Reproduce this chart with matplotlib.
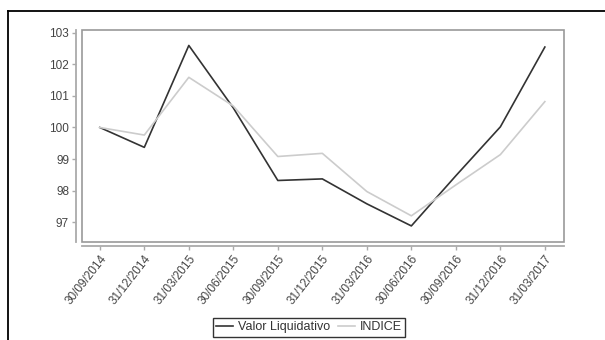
import matplotlib
matplotlib.use("Agg")
import matplotlib.pyplot as plt
from matplotlib.patches import Rectangle
from matplotlib.lines import Line2D

dates = ["30/09/2014", "31/12/2014", "31/03/2015", "30/06/2015", "30/09/2015",
         "31/12/2015", "31/03/2016", "30/06/2016", "30/09/2016", "31/12/2016",
         "31/03/2017"]
valor = [100.0, 99.37, 102.6, 100.62, 98.32, 98.37, 97.58, 96.88, 98.47, 100.02, 102.55]
indice = [100.0, 99.76, 101.59, 100.68, 99.08, 99.18, 97.97, 97.2, 98.18, 99.14, 100.82]
yticks = [97, 98, 99, 100, 101, 102, 103]

plt.rcParams['font.family'] = ['Liberation Sans', 'DejaVu Sans']

fig = plt.figure(figsize=(6.05, 3.4), dpi=100)
ax = fig.add_axes([82/605, 1-242/340, (564-82)/605, (242-30)/340])

x = list(range(len(dates)))
ax.plot(x, valor, color='#333333', lw=1.2, label='Valor Liquidativo')
ax.plot(x, indice, color='#cccccc', lw=1.2, label='INDICE')

ax.set_xlim(-0.40, len(dates) - 1 + 0.43)
ax.set_ylim(96.37, 103.09)

for s in ['top', 'right']:
    ax.spines[s].set_visible(False)
ax.spines['left'].set_position(('outward', 4.3))
ax.spines['bottom'].set_position(('outward', 2.9))
for s in ['left', 'bottom']:
    ax.spines[s].set_color('#aaaaaa')
    ax.spines[s].set_linewidth(1.3)
ax.tick_params(axis='both', colors='#aaaaaa', length=3, width=1, labelsize=8.5,
               labelcolor='#444444', pad=2)

ax.set_yticks(yticks)
ax.set_yticklabels([str(v) for v in yticks])
ax.set_xticks(x)
ax.set_xticklabels(dates)
for lbl in ax.get_xticklabels():
    lbl.set_rotation(52)
    lbl.set_ha('right')
    lbl.set_va('top')
    lbl.set_rotation_mode('anchor')

ax.add_patch(Rectangle((0, 0), 1, 1, transform=ax.transAxes, fill=False,
                       edgecolor='#999999', lw=1.2, clip_on=False, zorder=5))

# outer frame
fig.add_artist(Line2D([8/605, 1], [1-11/340, 1-11/340], color='black', lw=1.3,
                      transform=fig.transFigure))
fig.add_artist(Line2D([8/605, 8/605], [0, 1-11/340], color='black', lw=1.3,
                      transform=fig.transFigure))

leg = fig.legend(loc='lower center', bbox_to_anchor=(309/605, 3/340), ncol=2,
                 frameon=True, fancybox=False, fontsize=9, handlelength=1.3,
                 handletextpad=0.4, columnspacing=0.7, borderpad=0.3,
                 borderaxespad=0)
leg.get_frame().set_edgecolor('black')
leg.get_frame().set_linewidth(1.0)
for t in leg.get_texts():
    t.set_color('#333333')

fig.savefig('out.png', dpi=100)
